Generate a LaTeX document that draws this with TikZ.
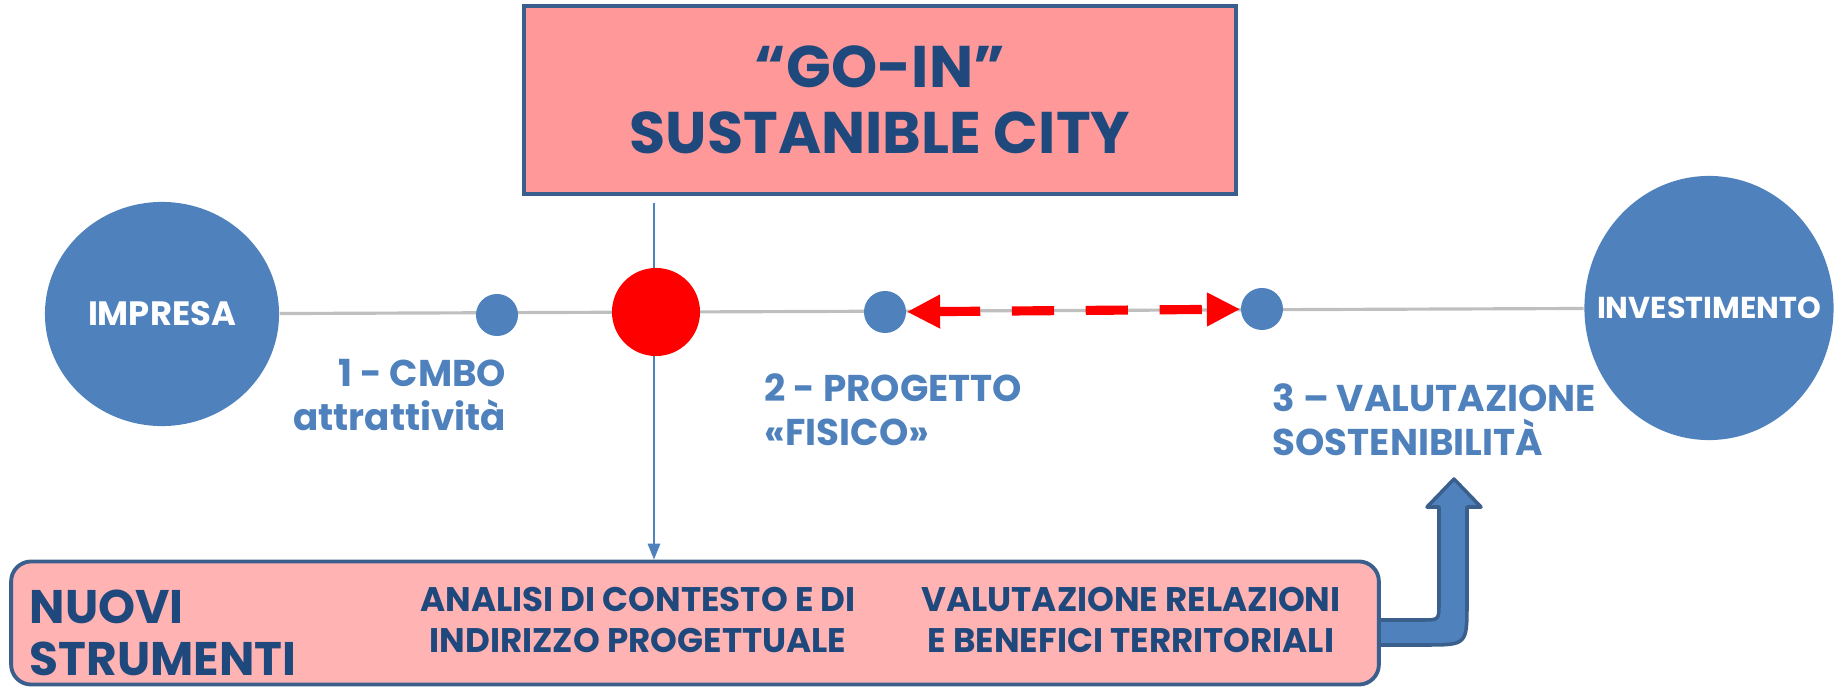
\documentclass[tikz,border=0pt]{standalone}
\usepackage{fontspec}
\setmainfont{Poppins}
\usepackage{xcolor}
\usetikzlibrary{arrows.meta}
\usetikzlibrary{shapes.geometric}
\usetikzlibrary{positioning}
\usetikzlibrary{backgrounds}

\definecolor{dotblue}{HTML}{4F81BD}
\definecolor{darkblue}{HTML}{1F497D}
\definecolor{edgeblue}{HTML}{3A5F8C}
\definecolor{boxpink}{HTML}{FF9999}
\definecolor{lightpink}{HTML}{FFB3B3}
\definecolor{linegray}{HTML}{BFBFBF}

\begin{document}
\begin{tikzpicture}[x=0.01cm,y=-0.01cm,
bigdot/.style={ellipse,fill=dotblue,inner sep=0pt},
dottext/.style={text=white,font=\bfseries\fontsize{#1}{#1}\selectfont},
smalldot/.style={circle,fill=dotblue,minimum size=0.42cm,inner sep=0pt},
steplabel/.style={text=dotblue,inner sep=0pt,font=\bfseries\fontsize{10.6}{12.5}\selectfont},
toolstext/.style={text=darkblue,inner sep=0pt,align=center,font=\bfseries\fontsize{9.7}{11.7}\selectfont}]
\useasboundingbox (0,0) rectangle (1841,688);

\node[draw=edgeblue,line width=1.1pt,fill=boxpink,minimum width=7.11cm,minimum height=1.88cm,
text=darkblue,align=center,font=\bfseries\fontsize{16.7}{18.8}\selectfont] (gobox) at (880,100) {“GO-IN”\\SUSTANIBLE CITY};

\node[bigdot,minimum width=2.34cm,minimum height=2.24cm,label={[dottext=9.6]center:IMPRESA}] (impresa) at (162,314) {};
\node[bigdot,minimum width=2.49cm,minimum height=2.64cm,label={[dottext=8.6]center:INVESTIMENTO}] (investimento) at (1709,308) {};
\node[smalldot] (cmbo) at (497,315) {};
\node[circle,fill=red,minimum size=0.88cm,inner sep=0pt] (goin) at (656,312) {};
\node[smalldot] (progetto) at (885,312) {};
\node[smalldot] (valut) at (1262,309) {};

\node[steplabel,align=right,anchor=east] (lab1) at (507,395) {1 - CMBO\\attrattività};
\node[steplabel,align=left,anchor=west] (lab2) at (764,410) {2 - PROGETTO\\«FISICO»};
\node[steplabel,align=left,anchor=west] (lab3) at (1272,420) {3 – VALUTAZIONE\\SOSTENIBILITÀ};

\node[draw=edgeblue,line width=1.1pt,fill=lightpink,rounded corners=0.2cm,minimum width=13.67cm,minimum height=1.23cm] (tools) at (695,623) {};
\node[text=darkblue,inner sep=0pt,align=left,anchor=west,font=\bfseries\fontsize{13.4}{14.8}\selectfont] (nuovi) at (29,633) {NUOVI\\STRUMENTI};
\node[toolstext] (analisi) at (638,620) {ANALISI DI CONTESTO E DI\\INDIRIZZO PROGETTUALE};
\node[toolstext] (relazioni) at (1131,620) {VALUTAZIONE RELAZIONI\\E BENEFICI TERRITORIALI};

\coordinate (vtop) at (654,203);

\draw[red,line width=2.6pt,dash pattern=on 12pt off 9pt,{Triangle[length=9.5pt,width=9pt]}-{Triangle[length=9.5pt,width=9pt]}] (progetto) -- (valut);

\begin{scope}[on background layer]
\draw[linegray,line width=0.9pt] (impresa) -- (investimento);
\draw[dotblue,line width=0.6pt,-{Triangle[length=4.5pt,width=3.5pt]}] (vtop) -- (vtop |- tools.north);
\draw[fill=dotblue,draw=edgeblue,line width=1pt,line join=round] (1370,620) -- (1422,620) .. controls (1439,620) .. (1439,603)
-- (1439,507) -- (1427,507) -- (1454,479) -- (1481,507) -- (1467,507) -- (1467,603)
.. controls (1467,645) .. (1425,645) -- (1370,645) -- cycle;
\end{scope}
\end{tikzpicture}
\end{document}
